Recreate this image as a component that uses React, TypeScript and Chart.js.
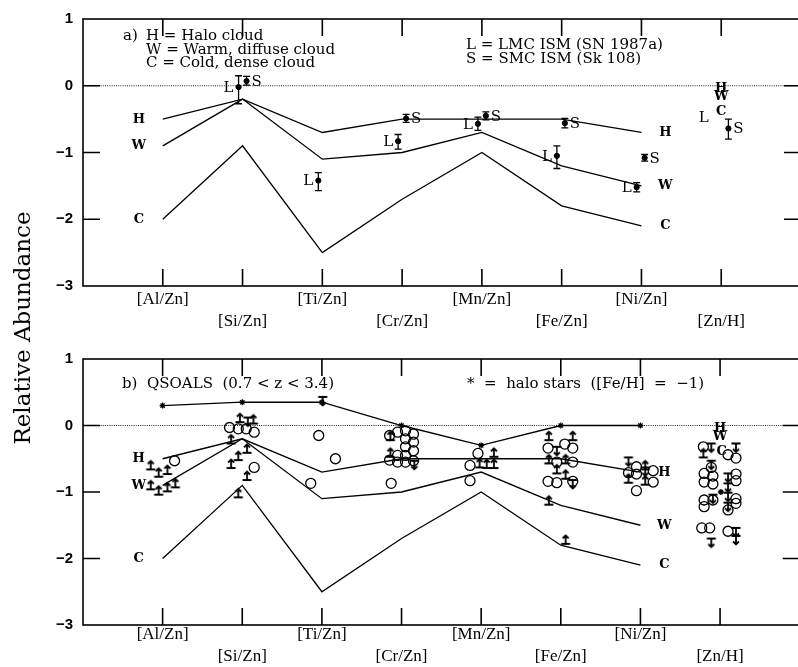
import React, { useEffect, useRef } from 'react';
import { Chart, registerables } from 'chart.js';
Chart.register(...registerables);

// ---------- data ----------
const categories = ['[Al/Zn]', '[Si/Zn]', '[Ti/Zn]', '[Cr/Zn]', '[Mn/Zn]', '[Fe/Zn]', '[Ni/Zn]', '[Zn/H]'];
const cloudHalo = [-0.5, -0.2, -0.7, -0.5, -0.5, -0.5, -0.7];
const cloudWarm = [-0.9, -0.2, -1.1, -1.0, -0.7, -1.2, -1.5];
const cloudCold = [-2.0, -0.9, -2.5, -1.7, -1.0, -1.8, -2.1];
const haloStars = [0.3, 0.35, 0.35, 0.0, -0.3, 0.0, 0.0];
const haloStarZnH: [number, number][] = [[7.01, -1.0]];
const yTickValues = [1, 0, -1, -2, -3];
const innerTicksY = [0, -1, -2];

// LMC / SMC: [x, value, low, high]
const lmcPoints: [number, number, number, number][] = [
  [0.95, -0.02, -0.27, 0.15],
  [1.95, -1.42, -1.57, -1.3],
  [2.95, -0.83, -0.95, -0.73],
  [3.95, -0.57, -0.67, -0.47],
  [4.94, -1.05, -1.24, -0.9],
  [5.94, -1.52, -1.59, -1.45],
];
const smcPoints: [number, number, number, number][] = [
  [1.05, 0.07, 0.01, 0.14],
  [3.05, -0.49, -0.55, -0.43],
  [4.05, -0.45, -0.51, -0.39],
  [5.04, -0.56, -0.63, -0.49],
  [6.04, -1.08, -1.13, -1.03],
  [7.09, -0.64, -0.8, -0.5],
];

// QSOALS detections (open circles)
const qsoDetections: [number, number][] = [
  [0.15, -0.53],
  [0.84, -0.03], [0.95, -0.05], [1.05, -0.05], [1.15, -0.1], [1.15, -0.63],
  [1.96, -0.15], [2.17, -0.5], [1.86, -0.87],
  [2.85, -0.15], [2.85, -0.52], [2.95, -0.1], [2.95, -0.45], [2.95, -0.55],
  [3.05, -0.08], [3.05, -0.2], [3.05, -0.32], [3.05, -0.45], [3.05, -0.55],
  [3.15, -0.13], [3.15, -0.25], [3.15, -0.38], [3.15, -0.53], [2.87, -0.87],
  [3.96, -0.42], [3.86, -0.6], [3.86, -0.83],
  [4.84, -0.34], [5.05, -0.28], [5.15, -0.34], [4.95, -0.55], [5.15, -0.55],
  [4.84, -0.84], [4.95, -0.86], [5.15, -0.84],
  [5.85, -0.71], [5.95, -0.62], [5.95, -0.73], [6.16, -0.68], [6.16, -0.85], [5.95, -0.98],
  [6.79, -0.32], [6.89, -0.63], [6.8, -0.72], [6.8, -0.85], [6.91, -0.76], [6.91, -0.88],
  [6.8, -1.12], [6.8, -1.22], [6.91, -1.12], [6.77, -1.54], [6.87, -1.54],
  [7.1, -0.44], [7.2, -0.49], [7.2, -0.73], [7.2, -0.83], [7.2, -1.1], [7.2, -1.17],
  [7.1, -1.27], [7.1, -1.59],
];
// lower limits (arrow up)
const qsoLowerLimits: [number, number][] = [
  [-0.15, -0.66], [-0.05, -0.77], [0.06, -0.73], [-0.15, -0.96], [-0.05, -1.04], [0.06, -0.99], [0.16, -0.93],
  [0.97, 0.05], [1.14, 0.03], [0.86, -0.27], [1.06, -0.41], [0.95, -0.52], [0.86, -0.64], [1.06, -0.82], [0.95, -1.08],
  [2.86, -0.22], [2.86, -0.47],
  [3.98, -0.63], [4.07, -0.64], [4.16, -0.64], [4.16, -0.47],
  [4.85, -0.22], [5.15, -0.22], [4.85, -0.57], [5.06, -0.57], [4.95, -0.72], [5.06, -0.8], [4.85, -1.19], [5.06, -1.78],
  [5.85, -0.86], [6.06, -0.89], [6.06, -0.66],
  [6.79, -0.48],
];
// upper limits (arrow down)
const qsoUpperLimits: [number, number][] = [
  [1.07, 0.12], [2.01, 0.43], [3.16, -0.53], [4.95, -0.32], [5.15, -0.82],
  [5.85, -0.48], [6.06, -0.63],
  [6.89, -0.27], [6.89, -0.53], [6.91, -1.04], [7.2, -0.27], [7.1, -0.72], [7.1, -0.87],
  [7.1, -1.01], [7.1, -1.16], [7.2, -1.54], [7.2, -1.66], [6.89, -1.7],
];

// cloud letters [x, value, text]
const cloudLettersA: [number, number, string][] = [
  [-0.3, -0.5, 'H'], [-0.3, -0.9, 'W'], [-0.3, -2.0, 'C'],
  [6.3, -0.7, 'H'], [6.3, -1.5, 'W'], [6.3, -2.1, 'C'],
  [7.0, -0.05, 'H'], [7.0, -0.16, 'W'], [7.0, -0.39, 'C'],
];
const plainLettersA: [number, number, string][] = [[6.78, -0.49, 'L']];
const cloudLettersB: [number, number, string][] = [
  [-0.3, -0.5, 'H'], [-0.3, -0.91, 'W'], [-0.3, -2.0, 'C'],
  [6.3, -0.71, 'H'], [6.3, -1.51, 'W'], [6.3, -2.09, 'C'],
  [7.0, -0.05, 'H'], [7.0, -0.17, 'W'], [7.02, -0.39, 'C'],
];

// ---------- helpers ----------
const SERIF = '"DejaVu Serif", serif';

function arrowGlyph(up: boolean): HTMLCanvasElement {
  const c = document.createElement('canvas');
  c.width = 12; c.height = 22;
  const g = c.getContext('2d')!;
  g.strokeStyle = '#000';
  g.lineWidth = 1.8;
  g.lineCap = 'butt';
  g.beginPath();
  g.moveTo(1.5, 11); g.lineTo(10.5, 11);
  if (up) {
    g.moveTo(6, 11); g.lineTo(6, 2.5);
    g.moveTo(3, 5.5); g.lineTo(6, 2.5); g.lineTo(9, 5.5);
  } else {
    g.moveTo(6, 11); g.lineTo(6, 19.5);
    g.moveTo(3, 16.5); g.lineTo(6, 19.5); g.lineTo(9, 16.5);
  }
  g.stroke();
  return c;
}

function catLabel(v: number) {
  const i = Math.round(v);
  if (Math.abs(v - i) > 1e-6 || i < 0 || i >= categories.length) return '';
  return i % 2 === 0 ? categories[i] : ['', categories[i]];
}

function lineDs(vals: number[]) {
  return {
    data: vals.map((v, i) => ({ x: i, y: v })),
    showLine: true,
    borderColor: '#000',
    borderWidth: 1.3,
    pointRadius: 0,
    fill: false,
    tension: 0,
  };
}

function framePlugin(id: string) {
  return {
    id,
    beforeDatasetsDraw(chart: any) {
      const { ctx, chartArea: a, scales } = chart;
      const x = scales.x, y = scales.y;
      ctx.save();
      ctx.strokeStyle = '#222';
      ctx.lineWidth = 1;
      ctx.setLineDash([1, 1.2]);
      const y0 = y.getPixelForValue(0);
      ctx.beginPath(); ctx.moveTo(a.left, y0); ctx.lineTo(a.right, y0); ctx.stroke();
      ctx.setLineDash([]);
      ctx.strokeStyle = '#000';
      ctx.lineWidth = 1.6;
      ctx.strokeRect(a.left, a.top, a.right - a.left, a.bottom - a.top);
      ctx.beginPath();
      for (const v of innerTicksY) {
        const py = y.getPixelForValue(v);
        ctx.moveTo(a.left, py); ctx.lineTo(a.left + 17, py);
        ctx.moveTo(a.right - 17, py); ctx.lineTo(a.right, py);
      }
      categories.forEach((_, i) => {
        const px = x.getPixelForValue(i);
        ctx.moveTo(px, a.bottom); ctx.lineTo(px, a.bottom - 17);
        ctx.moveTo(px, a.top); ctx.lineTo(px, a.top + 17);
      });
      ctx.stroke();
      ctx.restore();
    },
  };
}

type AnnotCfg = {
  errorSets: [number, number, number, number][][];
  pointTags: { pts: [number, number, number, number][]; t: string; dx: number }[];
  bold: [number, number, string][];
  plain: [number, number, string][];
  texts: { t: string; dx: number; dy: number }[];
};

function annotPlugin(id: string, cfg: AnnotCfg) {
  return {
    id,
    afterDatasetsDraw(chart: any) {
      const { ctx, chartArea: a, scales } = chart;
      const x = scales.x, y = scales.y;
      ctx.save();
      ctx.strokeStyle = '#000';
      ctx.fillStyle = '#000';
      ctx.lineWidth = 1.3;
      ctx.beginPath();
      for (const set of cfg.errorSets) {
        for (const p of set) {
          const px = x.getPixelForValue(p[0]);
          const lo = y.getPixelForValue(p[2]);
          const hi = y.getPixelForValue(p[3]);
          ctx.moveTo(px, lo); ctx.lineTo(px, hi);
          ctx.moveTo(px - 3.5, lo); ctx.lineTo(px + 3.5, lo);
          ctx.moveTo(px - 3.5, hi); ctx.lineTo(px + 3.5, hi);
        }
      }
      ctx.stroke();
      ctx.textAlign = 'center';
      ctx.textBaseline = 'middle';
      ctx.font = '15px ' + SERIF;
      for (const tag of cfg.pointTags) {
        for (const p of tag.pts) {
          ctx.fillText(tag.t, x.getPixelForValue(p[0]) + tag.dx, y.getPixelForValue(p[1]) + 1);
        }
      }
      for (const l of cfg.plain) ctx.fillText(l[2], x.getPixelForValue(l[0]), y.getPixelForValue(l[1]));
      ctx.font = 'bold 13px ' + SERIF;
      for (const l of cfg.bold) ctx.fillText(l[2], x.getPixelForValue(l[0]), y.getPixelForValue(l[1]));
      ctx.textAlign = 'left';
      ctx.font = '15px ' + SERIF;
      for (const t of cfg.texts) ctx.fillText(t.t, a.left + t.dx, a.top + t.dy);
      ctx.restore();
    },
  };
}

function makeChart(canvas: HTMLCanvasElement, datasets: any[], xAxisHeight: number, labelPad: number, plugins: any[]) {
  return new Chart(canvas, {
    type: 'scatter',
    data: { datasets },
    options: {
      animation: false,
      responsive: false,
      maintainAspectRatio: false,
      events: [],
      layout: { padding: { top: 12, right: 4, left: 0, bottom: 0 } },
      plugins: { legend: { display: false }, tooltip: { enabled: false } },
      scales: {
        x: {
          type: 'linear', min: -1, max: 8,
          afterFit: (s: any) => { s.height = xAxisHeight; },
          grid: { display: false, drawTicks: false },
          border: { display: false },
          ticks: {
            stepSize: 1, autoSkip: false, maxRotation: 0, minRotation: 0, padding: labelPad,
            color: '#000',
            font: { family: '"Liberation Serif", serif', size: 17, lineHeight: 1.28 },
            callback: (v: any) => catLabel(Number(v)),
          },
        },
        y: {
          type: 'linear', min: -3, max: 1,
          afterFit: (s: any) => { s.width = 83; },
          afterBuildTicks: (s: any) => { s.ticks = yTickValues.map((v) => ({ value: v })); },
          grid: { display: false, drawTicks: false },
          border: { display: false },
          ticks: {
            padding: 10, color: '#000',
            font: { family: '"Liberation Sans", sans-serif', size: 15, weight: 'bold' },
            callback: (v: any) => (Number(v) < 0 ? '\u2212' + Math.abs(Number(v)) : String(v)),
          },
        },
      },
    } as any,
    plugins,
  });
}

export default function App() {
  const r1 = useRef<HTMLCanvasElement>(null);
  const r2 = useRef<HTMLCanvasElement>(null);

  useEffect(() => {
    const up = arrowGlyph(true);
    const down = arrowGlyph(false);

    const dsA = [
      lineDs(cloudHalo), lineDs(cloudWarm), lineDs(cloudCold),
      { data: lmcPoints.map((p) => ({ x: p[0], y: p[1] })), pointRadius: 2.6, pointStyle: 'circle', backgroundColor: '#000', borderColor: '#000', borderWidth: 1 },
      { data: smcPoints.map((p) => ({ x: p[0], y: p[1] })), pointRadius: 2.6, pointStyle: 'circle', backgroundColor: '#000', borderColor: '#000', borderWidth: 1 },
    ];
    const c1 = makeChart(r1.current!, dsA, 54, 3, [
      framePlugin('frameA'),
      annotPlugin('annotA', {
        errorSets: [lmcPoints, smcPoints],
        pointTags: [{ pts: lmcPoints, t: 'L', dx: -10 }, { pts: smcPoints, t: 'S', dx: 10 }],
        bold: cloudLettersA,
        plain: plainLettersA,
        texts: [
          { t: 'a)', dx: 40, dy: 17 },
          { t: 'H = Halo cloud', dx: 63, dy: 17 },
          { t: 'W = Warm, diffuse cloud', dx: 63, dy: 31 },
          { t: 'C = Cold, dense cloud', dx: 63, dy: 44 },
          { t: 'L = LMC ISM (SN 1987a)', dx: 383, dy: 26 },
          { t: 'S = SMC ISM (Sk 108)', dx: 383, dy: 40 },
        ],
      }),
    ]);

    const dsB = [
      lineDs(cloudHalo), lineDs(cloudWarm), lineDs(cloudCold),
      { ...lineDs(haloStars), pointRadius: 3, pointStyle: 'star', pointBorderWidth: 1.3, pointBorderColor: '#000' },
      { data: haloStarZnH.map((p) => ({ x: p[0], y: p[1] })), pointRadius: 3, pointStyle: 'star', borderColor: '#000', borderWidth: 1.3 },
      { data: qsoDetections.map((p) => ({ x: p[0], y: p[1] })), pointRadius: 5, pointStyle: 'circle', borderColor: '#000', backgroundColor: 'rgba(0,0,0,0)', borderWidth: 1.3 },
      { data: qsoLowerLimits.map((p) => ({ x: p[0], y: p[1] })), pointRadius: 3, pointStyle: up },
      { data: qsoUpperLimits.map((p) => ({ x: p[0], y: p[1] })), pointRadius: 3, pointStyle: down },
    ];
    const c2 = makeChart(r2.current!, dsB, 42, -1, [
      framePlugin('frameB'),
      annotPlugin('annotB', {
        errorSets: [],
        pointTags: [],
        bold: cloudLettersB,
        plain: [],
        texts: [
          { t: 'b)  QSOALS  (0.7 < z < 3.4)', dx: 39, dy: 25 },
          { t: '*  =  halo stars  ([Fe/H]  =  \u22121)', dx: 384, dy: 25 },
        ],
      }),
    ]);
    return () => { c1.destroy(); c2.destroy(); };
  }, []);

  return (
    <div style={{ position: 'fixed', left: 0, top: 0, width: 798, height: 667, overflow: 'hidden', background: '#fff' }}>
      <canvas ref={r1} width={806} height={340} style={{ position: 'absolute', left: 0, top: 0 }} />
      <canvas ref={r2} width={806} height={327} style={{ position: 'absolute', left: 0, top: 340 }} />
      <div
        style={{
          position: 'absolute', left: 22 - 200, top: 328 - 15, width: 400, height: 30,
          lineHeight: '30px', textAlign: 'center', transform: 'rotate(-90deg)',
          fontFamily: SERIF, fontSize: 23, color: '#000', whiteSpace: 'nowrap',
        }}
      >
        Relative Abundance
      </div>
    </div>
  );
}
